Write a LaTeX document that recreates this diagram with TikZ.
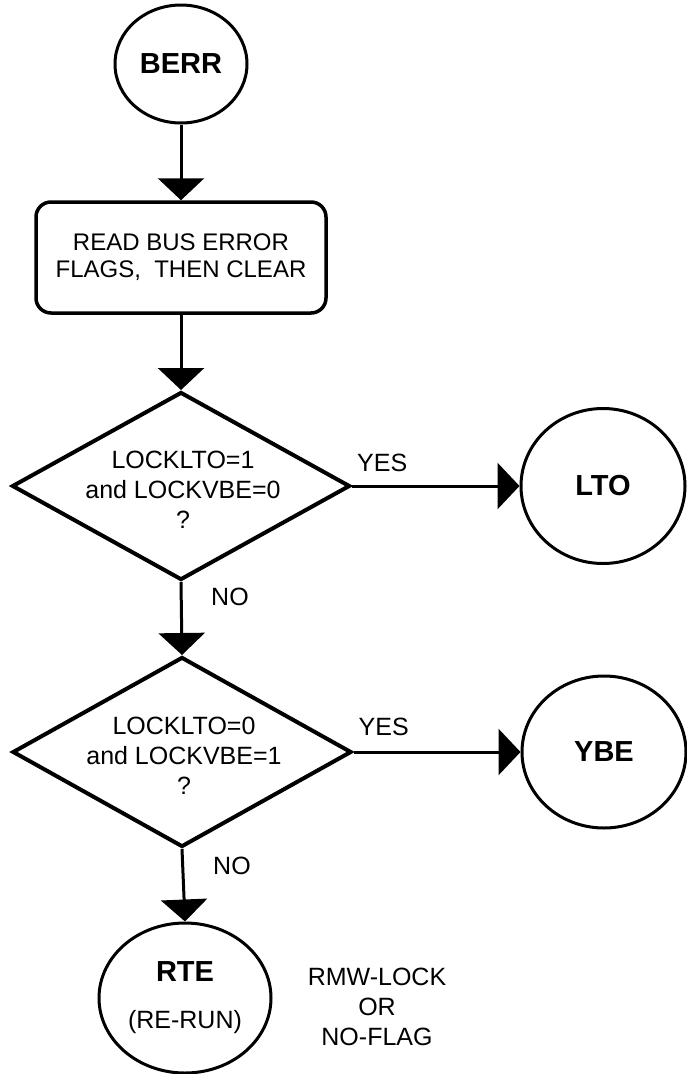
\documentclass[tikz,border=0pt]{standalone}
\usepackage{fontspec}
\setmainfont{Liberation Sans}
\usetikzlibrary{arrows.meta,positioning,shapes.geometric}
\tikzset{
  termnode/.style = {draw, line width=3pt, ellipse, inner sep=0pt, align=center,
                     font=\bfseries\fontsize{29}{34}\selectfont},
  procbox/.style  = {draw, line width=3.5pt, rectangle, rounded corners=15pt,
                     align=center, font=\fontsize{24}{27}\selectfont},
  decision/.style = {draw, line width=4pt, diamond, inner sep=0pt},
  lbl/.style      = {inner sep=0pt, align=center, font=\fontsize{25}{30}\selectfont},
  flow/.style     = {-{Triangle[length=22pt,width=46pt]}, line width=3pt},
}
\begin{document}
\begin{tikzpicture}[x=1pt, y=-1pt]
\useasboundingbox (0,0) rectangle (686,1074);
% ---- entry and flag read ----
\node[termnode, minimum width=132pt, minimum height=118pt] (berr) at (181,64) {BERR};
\node[procbox, minimum width=290pt, minimum height=111pt] (readflags) at (181,257.5)
     {READ BUS ERROR\\FLAGS,\ \ THEN CLEAR};
% ---- first test ----
\node[decision, minimum width=338pt, minimum height=188pt] (testlto) at (181,486) {};
\node[lbl] (testltotxt) at (183,490) {LOCKLTO=1\\and LOCKVBE=0\\?};
\node[termnode, minimum width=164pt, minimum height=155pt] (lto) at (603,486) {LTO};
% ---- second test ----
\node[decision, minimum width=339pt, minimum height=190pt] (testvbe) at (182,752) {};
\node[lbl] (testvbetxt) at (184,756) {LOCKLTO=0\\and LOCKVBE=1\\?};
\node[termnode, minimum width=164pt, minimum height=152pt] (vbe) at (604,752) {YBE};
% ---- fall through ----
\node[termnode, minimum width=172pt, minimum height=150pt] (rte) at (185,998)
     {RTE\\[13pt]\mdseries\fontsize{25}{30}\selectfont(RE-RUN)};
\node[lbl] (rtenote) at (377,1007) {RMW-LOCK\\OR\\NO-FLAG};
% ---- branch labels ----
\node[lbl, anchor=base west] (yes1) at ([xshift=5pt,yshift=15pt]testlto.east) {YES};
\node[lbl, anchor=base west] (no1) at ([xshift=30pt,yshift=-23pt]testlto.south) {NO};
\node[lbl, anchor=base west] (yes2) at ([xshift=5pt,yshift=17pt]testvbe.east) {YES};
\node[lbl, anchor=base west] (no2) at ([xshift=31pt,yshift=-25pt]testvbe.south) {NO};
% ---- connectors ----
\draw[flow] (berr.south) -- (readflags.north);
\draw[flow] (readflags.south) -- (testlto.north);
\draw[flow] (testlto.east) -- (lto.west);
\draw[flow] (testlto.south) -- (testvbe.north);
\draw[flow] (testvbe.east) -- (vbe.west);
\draw[flow] (testvbe.south) -- (rte.north);
\end{tikzpicture}
\end{document}
